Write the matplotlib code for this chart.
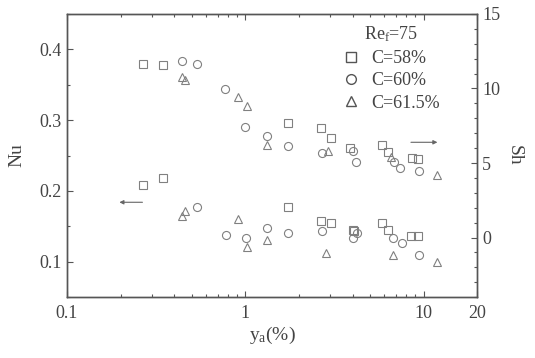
import matplotlib
matplotlib.use("Agg")
import matplotlib.pyplot as plt
from matplotlib.ticker import MultipleLocator, FixedLocator, LogLocator, NullFormatter, FixedFormatter
from matplotlib.lines import Line2D

plt.rcParams['font.family'] = ['Liberation Serif', 'DejaVu Serif']
plt.rcParams['mathtext.fontset'] = 'custom'
plt.rcParams['mathtext.rm'] = 'Liberation Serif'
plt.rcParams['mathtext.it'] = 'Liberation Serif'

# ---- data: Nu (left axis) ----
nu58_x = [0.267, 0.345, 1.74, 2.66, 3.03, 4.0, 4.1, 5.86, 6.3, 8.5, 9.3]
nu58_y = [0.209, 0.2176, 0.178, 0.157, 0.155, 0.145, 0.144, 0.155, 0.145, 0.137, 0.136]
nu60_x = [0.54, 0.78, 1.01, 1.32, 1.74, 2.7, 4.0, 4.25, 6.7, 7.6, 9.4]
nu60_y = [0.177, 0.138, 0.134, 0.147, 0.141, 0.143, 0.134, 0.141, 0.134, 0.127, 0.109]
nu615_x = [0.442, 0.46, 0.91, 1.02, 1.32, 2.85, 6.7, 11.9]
nu615_y = [0.164, 0.171, 0.160, 0.121, 0.131, 0.113, 0.109, 0.100]

# ---- data: Sh (right axis) ----
sh58_x = [0.267, 0.345, 1.74, 2.66, 3.03, 3.87, 5.86, 6.3, 8.63, 9.3]
sh58_y = [11.64, 11.57, 7.67, 7.34, 6.66, 6.0, 6.19, 5.75, 5.32, 5.25]
sh60_x = [0.442, 0.537, 0.771, 1.0, 1.32, 1.74, 2.7, 4.0, 4.2, 6.8, 7.4, 9.4]
sh60_y = [11.84, 11.64, 9.96, 7.40, 6.8, 6.12, 5.65, 5.8, 5.05, 5.05, 4.64, 4.44]
sh615_x = [0.44, 0.46, 0.91, 1.02, 1.32, 2.9, 6.6, 11.9]
sh615_y = [10.77, 10.6, 9.42, 8.82, 6.19, 5.79, 5.4, 4.17]

labels = ['C=58%', 'C=60%', 'C=61.5%']
markers = ['s', 'o', '^']
gray = '#808080'
axcol = '#555555'

fig = plt.figure(figsize=(5.35, 3.58), dpi=100)
ax = fig.add_axes([0.125, 0.170, 0.767, 0.791])
ax2 = ax.twinx()

mk = dict(linestyle='none', markerfacecolor='none', markeredgecolor=gray,
          markeredgewidth=0.8, markersize=5.8)
for (x, y), m in zip([(nu58_x, nu58_y), (nu60_x, nu60_y), (nu615_x, nu615_y)], markers):
    ax.plot(x, y, marker=m, **mk)
for (x, y), m in zip([(sh58_x, sh58_y), (sh60_x, sh60_y), (sh615_x, sh615_y)], markers):
    ax2.plot(x, y, marker=m, **mk)

ax.set_xscale('log')
ax.set_xlim(0.1, 20)
ax.set_ylim(0.05, 0.45)
ax2.set_ylim(-4, 15)

ax.xaxis.set_major_locator(FixedLocator([0.1, 1, 10, 20]))
ax.xaxis.set_major_formatter(FixedFormatter(['0.1', '1', '10', '20']))
ax.xaxis.set_minor_locator(LogLocator(base=10, subs=range(2, 10), numticks=20))
ax.xaxis.set_minor_formatter(NullFormatter())
ax.yaxis.set_major_locator(FixedLocator([0.1, 0.2, 0.3, 0.4]))
ax.yaxis.set_major_formatter(FixedFormatter(['0.1', '0.2', '0.3', '0.4']))
ax.yaxis.set_minor_locator(MultipleLocator(0.05))
ax2.yaxis.set_major_locator(MultipleLocator(5))
ax2.yaxis.set_minor_locator(MultipleLocator(1))

for a in (ax, ax2):
    a.tick_params(which='both', direction='in', colors=axcol, labelcolor='#444444',
                  labelsize=13, width=0.8)
    a.tick_params(which='major', length=4)
    a.tick_params(which='minor', length=2)
    for s in a.spines.values():
        s.set_color(axcol)
        s.set_linewidth(1.0)
ax.tick_params(which='both', top=True)
ax.tick_params(axis='x', which='major', pad=6)

ax.set_xlabel('y$_\\mathrm{a}$(%)', fontsize=14, color='#444444', labelpad=2)
ax.set_ylabel('Nu', fontsize=14, color='#444444', labelpad=10)
ax2.set_ylabel('Sh', fontsize=14, color='#444444', rotation=-90, labelpad=16)

# arrows
ax.annotate('', xy=(0.19, 0.184), xytext=(0.275, 0.184),
            arrowprops=dict(arrowstyle='-|>', color='#666666', lw=0.8,
                            mutation_scale=6))
ax2.annotate('', xy=(12.4, 6.39), xytext=(8.2, 6.39),
             arrowprops=dict(arrowstyle='-|>', color='#666666', lw=0.8,
                             mutation_scale=6))

handles = [Line2D([], [], marker=m, linestyle='none', markerfacecolor='none',
                  markeredgecolor='#555555', markeredgewidth=1.0, markersize=7)
           for m in markers]
leg = ax2.legend(handles, labels, title='Re$_\\mathrm{f}$=75', loc='upper right',
                 bbox_to_anchor=(0.935, 1.0), frameon=False, fontsize=13,
                 title_fontsize=13, handlelength=1.0, handletextpad=0.6,
                 labelspacing=0.3, borderaxespad=0.2)
for t in leg.get_texts():
    t.set_color('#444444')
leg.get_title().set_color('#444444')

fig.savefig('out.png', dpi=100)
